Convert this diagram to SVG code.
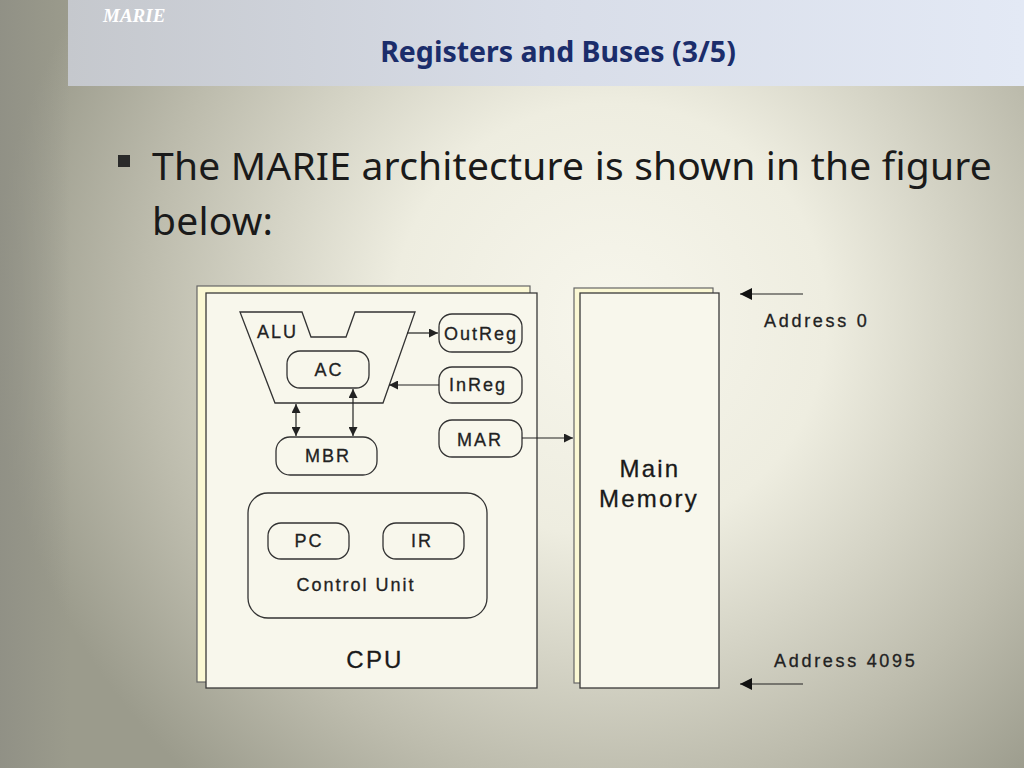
<svg xmlns="http://www.w3.org/2000/svg" width="1024" height="768" viewBox="0 0 1024 768">
<defs>
<radialGradient id="bg" cx="610" cy="320" r="620" gradientUnits="userSpaceOnUse">
<stop offset="0" stop-color="#f7f6ec"/>
<stop offset="0.35" stop-color="#eeede0"/>
<stop offset="0.75" stop-color="#bdbcad"/>
<stop offset="1" stop-color="#9b9b8c"/>
</radialGradient>
<linearGradient id="hdr" x1="0" y1="0" x2="1" y2="0">
<stop offset="0" stop-color="#c5c8cd"/>
<stop offset="0.5" stop-color="#d8dde8"/>
<stop offset="1" stop-color="#e3e9f5"/>
</linearGradient>
<linearGradient id="leftEdge" x1="0" y1="0" x2="1" y2="0">
<stop offset="0" stop-color="#8e8e84" stop-opacity="0.8"/>
<stop offset="1" stop-color="#8e8e84" stop-opacity="0"/>
</linearGradient>
<marker id="ah" viewBox="0 0 10 10" refX="10" refY="5" markerWidth="9" markerHeight="9" markerUnits="userSpaceOnUse" orient="auto-start-reverse">
<path d="M0,0 L10,5 L0,10 z" fill="#222"/>
</marker>
<marker id="ahL" viewBox="0 0 10 10" refX="10" refY="5" markerWidth="12" markerHeight="12" markerUnits="userSpaceOnUse" orient="auto">
<path d="M0,0 L10,5 L0,10 z" fill="#111"/>
</marker>
</defs>
<style>
.box{fill:#f8f7ec;stroke:#3a3a3a;stroke-width:1.3}
.shadow{fill:#fbf8d4;stroke:#666;stroke-width:1.2}
.reg{fill:#f8f7ec;stroke:#333;stroke-width:1.3}
.lbl{font-family:"Liberation Sans",Arial,sans-serif;font-size:18px;fill:#222;stroke:#222;stroke-width:0.3;letter-spacing:2px}
.addr{letter-spacing:2.7px}
.big{font-family:"Liberation Sans",Arial,sans-serif;font-size:24px;fill:#1a1a1a;stroke:#1a1a1a;stroke-width:0.3;letter-spacing:2.2px}
.wire{stroke:#222;stroke-width:1.2;fill:none}
</style>
<rect width="1024" height="768" fill="url(#bg)"/>
<rect x="0" y="0" width="70" height="768" fill="url(#leftEdge)"/>
<g id="header">
<rect x="68" y="0" width="956" height="86" fill="url(#hdr)"/>
<text x="103" y="22" font-family="Liberation Serif,serif" font-style="italic" font-weight="bold" font-size="19" fill="#ffffff">MARIE</text>
<text x="558" y="62" text-anchor="middle" font-family="Noto Sans,sans-serif" font-weight="bold" font-size="28.5" fill="#1b2d6b">Registers and Buses (3/5)</text>
</g>
<g id="bullet">
<rect x="118" y="155" width="12" height="12" fill="#2a2a2a"/>
<text x="152" y="180" font-family="Noto Sans,sans-serif" font-size="39" letter-spacing="0.2" fill="#1a1a1a">The MARIE architecture is shown in the figure</text>
<text x="152" y="235" font-family="Noto Sans,sans-serif" font-size="39" letter-spacing="0.2" fill="#1a1a1a">below:</text>
</g>
<g id="cpu">
<rect class="shadow" x="197" y="286" width="333" height="396"/>
<rect class="box" x="206" y="293" width="331" height="395"/>
<text class="big" x="375" y="668" text-anchor="middle">CPU</text>
</g>
<g id="alu">
<polygon class="reg" points="240,312 302,312 311,337 346,337 355,312 415,312 383,403 275,403"/>
<text class="lbl" x="257" y="338">ALU</text>
</g>
<g id="ac">
<rect class="reg" x="287" y="351" width="82" height="37" rx="13"/>
<text class="lbl" x="329" y="376" text-anchor="middle">AC</text>
</g>
<g id="outreg">
<rect class="reg" x="439" y="314" width="83" height="38" rx="13"/>
<text class="lbl" x="481" y="340" text-anchor="middle">OutReg</text>
</g>
<g id="inreg">
<rect class="reg" x="439" y="367" width="83" height="36" rx="13"/>
<text class="lbl" x="478" y="391" text-anchor="middle">InReg</text>
</g>
<g id="mar">
<rect class="reg" x="439" y="420" width="83" height="37" rx="13"/>
<text class="lbl" x="480" y="446" text-anchor="middle">MAR</text>
</g>
<g id="mbr">
<rect class="reg" x="276" y="437" width="101" height="38" rx="14"/>
<text class="lbl" x="328" y="462" text-anchor="middle">MBR</text>
</g>
<g id="controlunit">
<rect class="reg" x="248" y="493" width="239" height="125" rx="20"/>
<text class="lbl" x="356" y="591" text-anchor="middle">Control Unit</text>
</g>
<g id="pc">
<rect class="reg" x="268" y="523" width="81" height="36" rx="13"/>
<text class="lbl" x="309" y="547" text-anchor="middle">PC</text>
</g>
<g id="ir">
<rect class="reg" x="383" y="523" width="81" height="36" rx="13"/>
<text class="lbl" x="422" y="547" text-anchor="middle">IR</text>
</g>
<g id="memory">
<rect class="shadow" x="574" y="288" width="139" height="395"/>
<rect class="box" x="580" y="293" width="139" height="395"/>
<text class="big" x="650" y="477" text-anchor="middle">Main</text>
<text class="big" x="649" y="507" text-anchor="middle">Memory</text>
</g>
<g id="addresses">
<text class="lbl addr" x="764" y="327">Address 0</text>
<text class="lbl addr" x="774" y="667">Address 4095</text>
</g>
<g id="connectors">
<line class="wire" x1="407" y1="333" x2="438" y2="333" marker-end="url(#ah)"/>
<line class="wire" x1="439" y1="385" x2="389" y2="385" marker-end="url(#ah)"/>
<line class="wire" x1="522" y1="438" x2="573" y2="438" marker-end="url(#ah)"/>
<line class="wire" x1="296" y1="404" x2="296" y2="436" marker-start="url(#ah)" marker-end="url(#ah)"/>
<line class="wire" x1="353" y1="389" x2="353" y2="436" marker-start="url(#ah)" marker-end="url(#ah)"/>
<line class="wire" x1="803" y1="294" x2="740" y2="294" marker-end="url(#ahL)"/>
<line class="wire" x1="803" y1="684" x2="740" y2="684" marker-end="url(#ahL)"/>
</g>
</svg>
